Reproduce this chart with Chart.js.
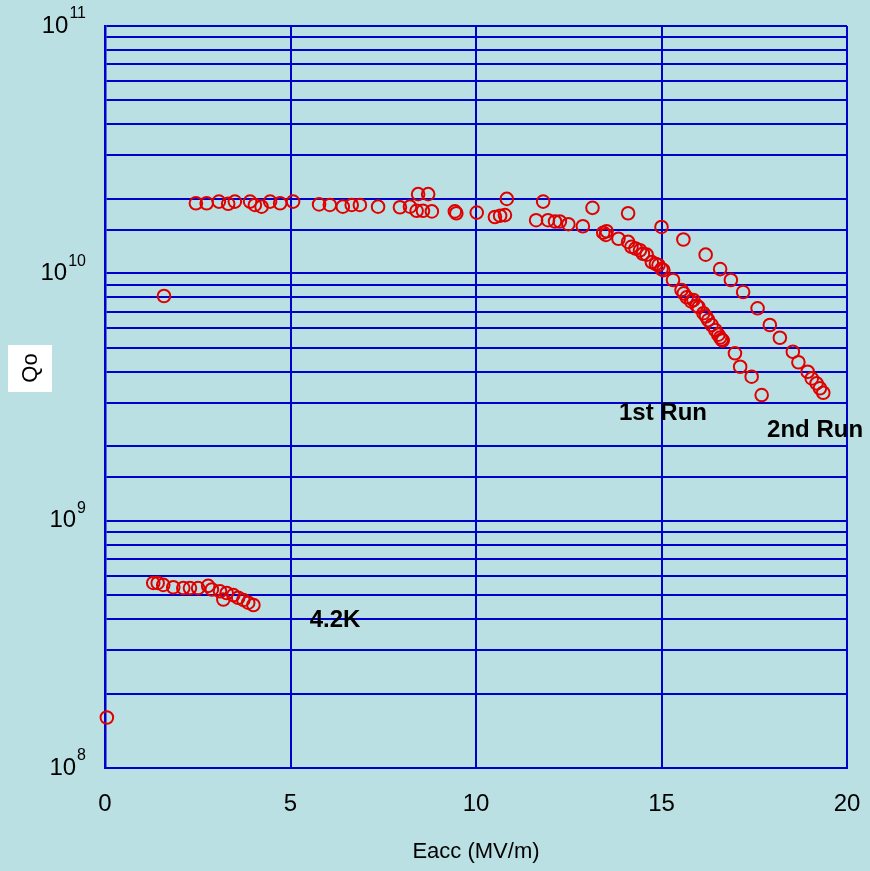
<!DOCTYPE html>
<html>
<head>
<meta charset="utf-8">
<title>Q0 vs Eacc</title>
<script src="https://cdn.jsdelivr.net/npm/chart.js@4.4.1/dist/chart.umd.min.js"></script>
<style>
  html, body { margin: 0; padding: 0; background: #bae0e3; }
  #wrap { width: 870px; height: 871px; }
</style>
</head>
<body>
<div id="wrap"><canvas id="qChart" width="870" height="871"></canvas></div>
<script>
// values (Eacc in MV/m, Q0)
const run1Eacc = [1.59, 2.45, 2.74, 3.07, 3.32, 3.50, 3.91, 4.04, 4.22, 4.45, 4.72, 5.07, 5.77, 6.06, 6.41, 6.65, 6.87,
  7.36, 7.95, 8.22, 8.40, 8.57, 8.81, 9.43, 9.47, 10.02, 10.51, 10.65, 10.78, 11.62, 11.94, 12.13, 12.26, 12.49, 12.88,
  13.43, 13.52, 13.50, 13.84, 14.10, 14.19, 14.30, 14.42, 14.50, 14.60, 14.74, 14.85, 14.92, 15.00, 15.05, 15.31,
  15.54, 15.60, 15.68, 15.80, 15.86, 15.95, 16.00, 16.13, 16.20, 16.26, 16.35, 16.45, 16.53, 16.58, 16.62, 16.65,
  16.98, 17.12, 17.43, 17.70];
const run1Q = [8.1e9, 1.92e10, 1.92e10, 1.95e10, 1.91e10, 1.95e10, 1.95e10, 1.89e10, 1.86e10, 1.95e10, 1.92e10, 1.95e10,
  1.90e10, 1.89e10, 1.86e10, 1.89e10, 1.89e10, 1.86e10, 1.85e10, 1.86e10, 1.79e10, 1.79e10, 1.78e10, 1.78e10, 1.75e10,
  1.76e10, 1.69e10, 1.71e10, 1.72e10, 1.64e10, 1.64e10, 1.62e10, 1.62e10, 1.58e10, 1.55e10, 1.46e10, 1.48e10, 1.43e10,
  1.38e10, 1.34e10, 1.28e10, 1.26e10, 1.24e10, 1.20e10, 1.19e10, 1.11e10, 1.09e10, 1.08e10, 1.04e10, 1.03e10, 9.4e9,
  8.56e9, 8.3e9, 8.0e9, 7.7e9, 7.8e9, 7.4e9, 7.3e9, 6.9e9, 6.7e9, 6.47e9, 6.18e9, 5.9e9, 5.65e9, 5.5e9, 5.4e9, 5.35e9,
  4.75e9, 4.19e9, 3.82e9, 3.22e9];

const run2Eacc = [8.44, 8.71, 10.83, 11.81, 13.14, 14.10, 15.00, 15.59, 16.19, 16.58, 16.87, 17.20, 17.59, 17.92,
  18.19, 18.54, 18.69, 18.94, 19.05, 19.18, 19.27, 19.36];
const run2Q = [2.09e10, 2.09e10, 2.0e10, 1.95e10, 1.84e10, 1.75e10, 1.54e10, 1.37e10, 1.19e10, 1.04e10, 9.4e9, 8.4e9,
  7.22e9, 6.18e9, 5.49e9, 4.82e9, 4.37e9, 4.0e9, 3.76e9, 3.59e9, 3.43e9, 3.29e9];

const k42Eacc = [0.05, 1.30, 1.42, 1.57, 1.84, 2.11, 2.29, 2.51, 2.78, 2.88, 3.10, 3.19, 3.28, 3.46, 3.59, 3.73, 3.86, 4.00];
const k42Q = [1.6e8, 5.6e8, 5.6e8, 5.5e8, 5.38e8, 5.34e8, 5.34e8, 5.34e8, 5.45e8, 5.27e8, 5.18e8, 4.8e8, 5.1e8, 5.0e8,
  4.88e8, 4.78e8, 4.66e8, 4.56e8];

const yExponents = [8, 9, 10, 11];
const xTicks = [0, 5, 10, 15, 20];

const noteText = ['1st Run', '2nd Run', '4.2K'];
const noteEacc = [15.04, 19.14, 6.2];
const noteQ = [2.72e9, 2.32e9, 3.96e8];

const BG = '#bae0e3';
const BLUE = '#0000cc';
const RED = '#e00000';
const FONT = '"Liberation Sans", Arial, sans-serif';

const toPoints = (xs, ys) => xs.map((x, i) => ({ x: x, y: ys[i] }));

const pointStyle = {
  showLine: false,
  pointStyle: 'circle',
  pointRadius: 6.3,
  pointHoverRadius: 6.3,
  pointBorderWidth: 2,
  borderColor: RED,
  backgroundColor: 'rgba(0,0,0,0)',
  clip: false
};

const decor = {
  id: 'decor',
  beforeDraw(chart) {
    const ctx = chart.ctx;
    ctx.save();
    ctx.fillStyle = BG;
    ctx.fillRect(0, 0, chart.width, chart.height);
    // white box behind the Q0 label
    ctx.fillStyle = '#ffffff';
    ctx.fillRect(8, 345, 44, 47);
    ctx.restore();
  },
  afterDraw(chart) {
    const ctx = chart.ctx;
    const xs = chart.scales.x, ys = chart.scales.y;
    ctx.save();
    ctx.fillStyle = '#000';

    // y tick labels as 10 with a raised exponent
    yExponents.forEach(e => {
      const py = ys.getPixelForValue(Math.pow(10, e));
      const sup = String(e);
      ctx.textAlign = 'right';
      ctx.textBaseline = 'middle';
      ctx.font = '16px ' + FONT;
      const w = ctx.measureText(sup).width;
      ctx.fillText(sup, 86, py - 12);
      ctx.font = '24px ' + FONT;
      ctx.fillText('10', 86 - w - 1, py);
    });

    // rotated y title
    ctx.save();
    ctx.translate(31, 368);
    ctx.rotate(-Math.PI / 2);
    ctx.textAlign = 'center';
    ctx.textBaseline = 'middle';
    ctx.font = '22px ' + FONT;
    ctx.fillText('Qo', 0, 0);
    ctx.restore();

    // run labels
    ctx.font = 'bold 24px ' + FONT;
    ctx.textAlign = 'center';
    ctx.textBaseline = 'middle';
    noteText.forEach((t, i) => {
      ctx.fillText(t, xs.getPixelForValue(noteEacc[i]), ys.getPixelForValue(noteQ[i]));
    });
    ctx.restore();
  }
};

new Chart(document.getElementById('qChart'), {
  type: 'scatter',
  data: {
    datasets: [
      Object.assign({ label: '1st Run', data: toPoints(run1Eacc, run1Q) }, pointStyle),
      Object.assign({ label: '2nd Run', data: toPoints(run2Eacc, run2Q) }, pointStyle),
      Object.assign({ label: '4.2K', data: toPoints(k42Eacc, k42Q) }, pointStyle)
    ]
  },
  options: {
    responsive: false,
    animation: false,
    events: [],
    layout: { padding: { top: 26, right: 23, left: 0, bottom: 4 } },
    plugins: { legend: { display: false }, tooltip: { enabled: false } },
    scales: {
      x: {
        type: 'linear',
        min: 0,
        max: 20,
        afterBuildTicks: s => { s.ticks = xTicks.map(v => ({ value: v })); },
        afterFit: s => { s.height = 99; s.paddingLeft = 0; s.paddingRight = 0; },
        ticks: { color: '#000', font: { family: FONT, size: 24 }, padding: 22, maxRotation: 0 },
        grid: { color: BLUE, lineWidth: 2, drawTicks: false },
        border: { color: BLUE, width: 2 },
        title: { display: true, text: 'Eacc (MV/m)', color: '#000', font: { family: FONT, size: 22 }, padding: { bottom: 2 } }
      },
      y: {
        type: 'logarithmic',
        min: 1e8,
        max: 1e11,
        afterFit: s => { s.width = 105; s.paddingTop = 0; s.paddingBottom = 0; },
        ticks: { display: false },
        grid: { color: BLUE, lineWidth: 2, drawTicks: false },
        border: { color: BLUE, width: 2.5 }
      }
    }
  },
  plugins: [decor]
});
</script>
</body>
</html>
